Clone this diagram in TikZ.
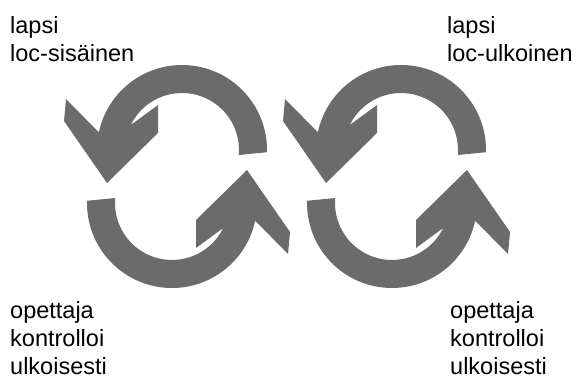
\documentclass[tikz,border=0pt]{standalone}
\usepackage{fontspec}
\setmainfont{Liberation Sans}
\tikzset{
  arrowfill/.style={fill=black!58},
  lbl/.style={anchor=base west, inner sep=0pt, font=\fontsize{23.5}{28}\selectfont},
  turnarrow/.pic={
    \fill[arrowfill] (-1.5:85pt) arc[start angle=-1.5, end angle=168, radius=85pt]
      -- (-116pt,51pt) -- (-118pt,29pt) -- (-75pt,-33pt) -- (-24pt,17pt) -- (-24pt,45pt)
      -- (154:57pt) arc[start angle=154, end angle=-5, radius=57pt] -- cycle;
  }
}
\begin{document}
\begin{tikzpicture}[x=1pt,y=1pt]
\useasboundingbox (0,0) rectangle (578,378);
% arrows
\pic (tl) at (182,228) {turnarrow};
\pic (tr) at (401,228) {turnarrow};
\pic[rotate=180] (bl) at (172,175) {turnarrow};
\pic[rotate=180] (br) at (392,175) {turnarrow};
% labels
\node[lbl] (tlA) at (10,344) {lapsi};
\node[lbl] (tlB) at (10,316) {loc-sisäinen};
\node[lbl] (trA) at (447,344) {lapsi};
\node[lbl] (trB) at (447,316) {loc-ulkoinen};
\node[lbl] (blA) at (10,60) {opettaja};
\node[lbl] (blB) at (10,32) {kontrolloi};
\node[lbl] (blC) at (10,4) {ulkoisesti};
\node[lbl] (brA) at (450,60) {opettaja};
\node[lbl] (brB) at (450,32) {kontrolloi};
\node[lbl] (brC) at (450,4) {ulkoisesti};
\end{tikzpicture}
\end{document}
